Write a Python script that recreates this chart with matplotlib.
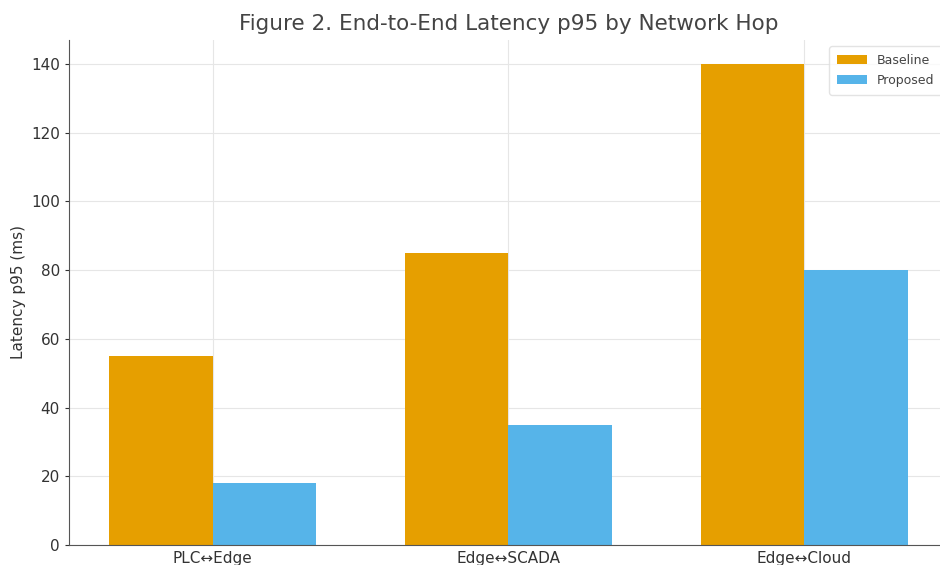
import matplotlib
matplotlib.use("Agg")
import matplotlib.pyplot as plt
import numpy as np

hops = ["PLC\u2194Edge", "Edge\u2194SCADA", "Edge\u2194Cloud"]
baseline = [55, 85, 140]
proposed = [18, 35, 80]
series_names = ["Baseline", "Proposed"]
y_ticks = [0, 20, 40, 60, 80, 100, 120, 140]

plt.rcParams["font.family"] = ["DejaVu Sans"]

fig = plt.figure(figsize=(9.4, 5.65), dpi=100)
ax = fig.add_axes([0.0734, 0.0354, 0.935, 0.894])

x = np.arange(len(hops))
w = 0.35
ax.bar(x - w / 2, baseline, w, color="#E69F00", label=series_names[0], zorder=2)
ax.bar(x + w / 2, proposed, w, color="#56B4E9", label=series_names[1], zorder=2)

ax.set_xticks(x)
ax.set_xticklabels(hops, fontsize=11, color="#333333")
ax.set_yticks(y_ticks)
ax.tick_params(axis="y", labelsize=11, colors="#333333", length=3)
ax.tick_params(axis="x", length=0, pad=4)
ax.set_ylim(0, 147)
ax.set_ylabel("Latency p95 (ms)", fontsize=11, color="#333333")
ax.set_title("Figure 2. End-to-End Latency p95 by Network Hop", fontsize=15.5,
             color="#444444", pad=7)

ax.grid(True, color="#e6e6e6", linewidth=0.8, zorder=0)
ax.set_axisbelow(True)
for s in ("top", "right"):
    ax.spines[s].set_visible(False)
for s in ("left", "bottom"):
    ax.spines[s].set_color("#555555")

ax.legend(loc="upper right", fontsize=9, frameon=True, edgecolor="#dddddd",
          labelcolor="#444444", handlelength=2.4, labelspacing=0.6,
          borderpad=0.6)

fig.savefig("out.png", dpi=100)
